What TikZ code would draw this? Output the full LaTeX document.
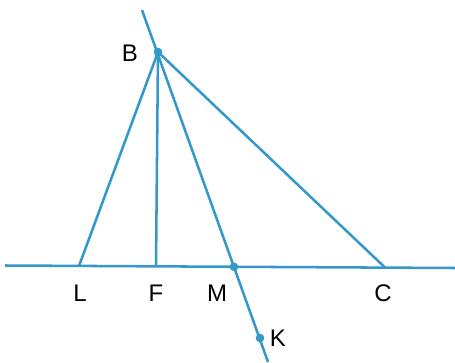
\documentclass[tikz,border=0pt]{standalone}
\usepackage{fontspec}
\setmainfont{Liberation Sans}
\definecolor{lc}{RGB}{52,152,202}
\begin{document}
\begin{tikzpicture}[x=0.75pt,y=-0.75pt,
  seg/.style={draw=lc,line width=1.9pt},
  pt/.style={circle,fill=lc,inner sep=0pt,minimum size=6.5pt},
  lbl/.style={font=\fontsize{18}{18}\selectfont,text=black,inner sep=0pt}]
\useasboundingbox (0,0) rectangle (455,362);
\coordinate (T) at (142,10);
\coordinate (E) at (268,362);
\coordinate (HL) at (5,265.5);
\coordinate (HR) at (455,268);
\coordinate (B) at (158,52);
\coordinate (L) at (79,266);
\coordinate (F) at (156,266.3);
\coordinate (M) at (234,266.8);
\coordinate (C) at (385,267.5);
\coordinate (K) at (260,338);
\draw[seg] (HL) -- (HR);
\draw[seg] (T) -- (E);
\draw[seg] (B) -- (L);
\draw[seg] (B) -- (F);
\draw[seg] (B) -- (C);
\node[pt] (pB) at (B) {};
\node[pt] (pM) at (M) {};
\node[pt] (pK) at (K) {};
\node[lbl] (tB) at (130,53) {B};
\node[lbl] (tL) at (80,293) {L};
\node[lbl] (tF) at (156,293) {F};
\node[lbl] (tM) at (217,293) {M};
\node[lbl] (tC) at (383,293) {C};
\node[lbl] (tK) at (278,338) {K};
\end{tikzpicture}
\end{document}
